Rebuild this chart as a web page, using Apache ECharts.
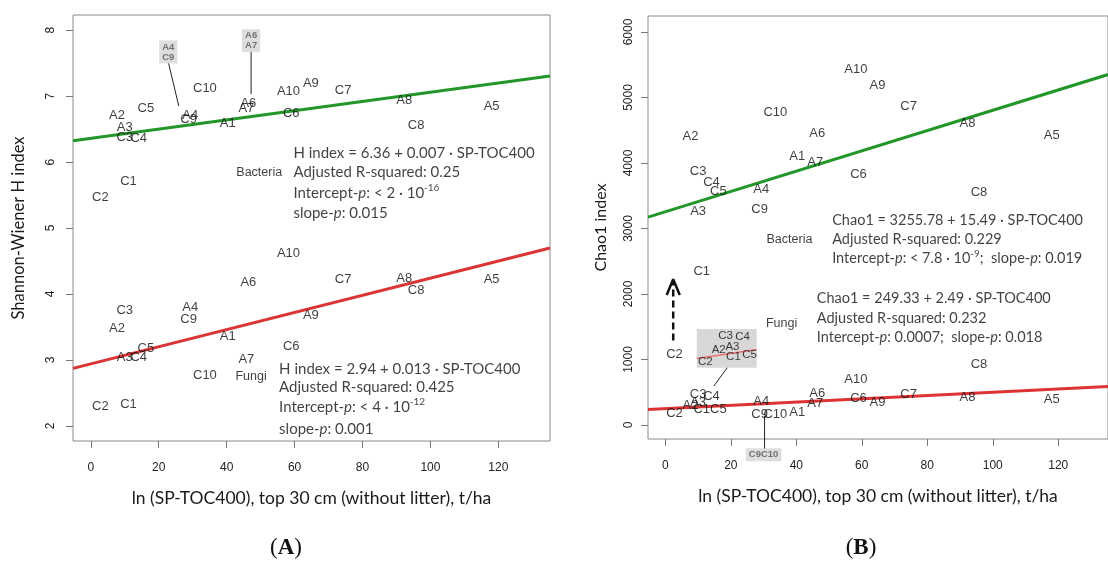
<!DOCTYPE html>
<html>
<head>
<meta charset="utf-8">
<script src="https://cdn.jsdelivr.net/npm/echarts@6/dist/echarts.min.js"></script>
<style>
  html, body { margin: 0; padding: 0; background: #fff; }
  #chart { width: 1108px; height: 561px; }
</style>
</head>
<body>
<div id="chart"></div>
<script>
// ---- data -------------------------------------------------------------
const sites = ['A1','A2','A3','A4','A5','A6','A7','A8','A9','A10',
               'C1','C2','C3','C4','C5','C6','C7','C8','C9','C10'];
// ln(SP-TOC400), top 30 cm, t/ha
const spToc = [40.3, 7.7, 10.0, 29.3, 118.0, 46.4, 45.8, 92.3, 64.8, 58.2,
               11.1, 2.8, 10.0, 14.1, 16.2, 59.0, 74.3, 95.8, 28.8, 33.6];

// Shannon-Wiener H index
const shannonBacteria = [6.58, 6.71, 6.53, 6.70, 6.85, 6.89, 6.82, 6.93, 7.20, 7.07,
                         5.70, 5.46, 6.38, 6.36, 6.82, 6.74, 7.08, 6.56, 6.64, 7.12];
const shannonFungi    = [3.35, 3.48, 3.03, 3.80, 4.22, 4.18, 3.01, 4.23, 3.68, 4.62,
                         2.32, 2.30, 3.75, 3.03, 3.17, 3.21, 4.22, 4.06, 3.61, 2.77];

// Chao1 index
const chaoBacteria = [4096, 4401, 3259, 3599, 4426, 4452, 4010, 4604, 5178, 5426,
                      2345, 1076, 3868, 3700, 3569, 3832, 4858, 3548, 3294, 4766];
const chaoFungi    = [198, 305, 340, 360, 391, 477, 330, 416, 350, 695,
                      240, 183, 468, 432, 245, 401, 467, 924, 158, 158];

// regression fits: [intercept, slope]
const fitShannonBacteria = [6.36, 0.007];
const fitShannonFungi    = [2.94, 0.013];
const fitChaoBacteria    = [3255.78, 15.49];
const fitChaoFungi       = [249.33, 2.49];

// magnified view of the crowded fungal Chao1 cluster
const insetSites = ['C3', 'C4', 'A2', 'A3', 'C1', 'C5', 'C2'];
const insetX     = [18.4, 23.6, 16.3, 20.5, 20.8, 25.7, 12.2];
const insetY     = [1355, 1340, 1142, 1193, 1041, 1076, 964];
const insetBox   = [[9.6, 1467], [27.9, 873]];
const insetFitX  = [9.6, 27.9];
const insetFitY  = [1015, 1152];
const insetLinkX = [18.9, 14.8];
const insetLinkY = [873, 594];

// upward dashed arrow near C2 (Chao1 panel)
const arrowShaftX = [2.4, 2.4];
const arrowShaftY = [1290, 2200];
const arrowHeadX  = [0.4, 2.4, 4.4];
const arrowHeadY  = [1985, 2225, 1985];

// callouts for overlapping labels
const calloutShannon = [
  { text: 'A4\nC9', at: [22.8, 7.67], from: [22.9, 7.50], to: [25.9, 6.85] },
  { text: 'A6\nA7', at: [47.2, 7.84], from: [47.2, 7.67], to: [47.2, 7.03] }
];
const calloutChao = [
  { text: 'C9C10', at: [30.0, -455], from: [30.3, 137], to: [30.3, -370] }
];

// tick labels
const xTicks = [0, 20, 40, 60, 80, 100, 120];
const shannonTicks = [2, 3, 4, 5, 6, 7, 8];
const chaoTicks = [0, 1000, 2000, 3000, 4000, 5000, 6000];

// model summaries
const noteShannonBacteria = ['H index = 6.36 + 0.007 · SP-TOC400', 'Adjusted R-squared: 0.25',
                             'Intercept-{i|p}: < 2 · 10{s|-16}', 'slope-{i|p}: 0.015'];
const noteShannonFungi    = ['H index = 2.94 + 0.013 · SP-TOC400', 'Adjusted R-squared: 0.425',
                             'Intercept-{i|p}: < 4 · 10{s|-12}', 'slope-{i|p}: 0.001'];
const noteChaoBacteria    = ['Chao1 = 3255.78 + 15.49 · SP-TOC400', 'Adjusted R-squared: 0.229',
                             'Intercept-{i|p}: < 7.8 · 10{s|-9};  slope-{i|p}: 0.019'];
const noteChaoFungi       = ['Chao1 = 249.33 + 2.49 · SP-TOC400', 'Adjusted R-squared: 0.232',
                             'Intercept-{i|p}: 0.0007;  slope-{i|p}: 0.018'];

// ---- layout -----------------------------------------------------------
const PT_FONT = '"Liberation Sans", Arial, sans-serif';
const TXT_FONT = 'Lato, "Open Sans", sans-serif';
const GREEN = '#23962a';
const RED = '#dc3434';
const AXIS_GREY = '#7a7a7a';

const X_RANGE_L = [-5.24, 135.2];
const Y_RANGE_L = [1.77, 8.23];
const X_RANGE_R = [-5.3, 135.2];
const Y_RANGE_R = [-214, 6244];

// where the summaries and group names sit (data coords)
const notePlacement = {
  shannonBacteria: { x: 59.5, ys: [6.13, 5.84, 5.53, 5.23], tag: 'Bacteria', tagAt: [49.6, 5.84], size: 15 },
  shannonFungi:    { x: 55.3, ys: [2.86, 2.58, 2.29, 1.95], tag: 'Fungi',    tagAt: [47.2, 2.75], size: 15 },
  chaoBacteria:    { x: 50.8, ys: [3132, 2838, 2538],       tag: 'Bacteria', tagAt: [37.9, 2838], size: 14.5 },
  chaoFungi:       { x: 46.1, ys: [1939, 1635, 1345],       tag: 'Fungi',    tagAt: [35.5, 1543], size: 14.5 }
};

const xTitle = 'ln (SP-TOC400), top 30 cm (without litter), t/ha';

function xAxisFor(gridIndex, range) {
  return {
    type: 'value', gridIndex, min: range[0], max: range[1],
    name: xTitle, nameLocation: 'middle', nameGap: 48,
    nameTextStyle: { fontFamily: TXT_FONT, fontSize: 17.5, color: '#1a1a1a' },
    axisLine: { show: false, onZero: false },
    axisTick: { show: true, length: 7, customValues: xTicks, lineStyle: { color: AXIS_GREY } },
    axisLabel: { customValues: xTicks, margin: 21, fontFamily: PT_FONT, fontSize: 12, color: '#222',
                 formatter: v => String(v) },
    splitLine: { show: false }
  };
}
function yAxisFor(gridIndex, range, ticks, title, gap, titleSize, labelMargin) {
  return {
    type: 'value', gridIndex, min: range[0], max: range[1],
    name: title, nameLocation: 'middle', nameGap: gap, nameRotate: 90,
    nameTextStyle: { fontFamily: TXT_FONT, fontSize: titleSize, color: '#1a1a1a' },
    axisLine: { show: false, onZero: false },
    axisTick: { show: true, length: 7, customValues: ticks, lineStyle: { color: AXIS_GREY } },
    axisLabel: { customValues: ticks, rotate: 90, margin: labelMargin, fontFamily: PT_FONT, fontSize: 12, color: '#222',
                 formatter: v => String(v) },
    splitLine: { show: false }
  };
}

function pointLabels(axis, xs, ys, names, fontSize) {
  return {
    type: 'scatter', xAxisIndex: axis, yAxisIndex: axis, symbolSize: 1, silent: true, z: 6,
    itemStyle: { color: 'rgba(0,0,0,0)' },
    label: { show: true, position: 'inside', formatter: p => p.data[2],
             fontFamily: PT_FONT, fontSize: fontSize || 13, color: '#0d0d0d' },
    data: names.map((n, i) => [xs[i], ys[i], n])
  };
}
function fitLine(axis, range, fit, color) {
  return {
    type: 'line', xAxisIndex: axis, yAxisIndex: axis, symbol: 'none', silent: true, z: 3,
    lineStyle: { color, width: 3 },
    data: range.map(x => [x, fit[0] + fit[1] * x])
  };
}
function note(axis, lines, place) {
  const base = { fontFamily: TXT_FONT, fontSize: place.size, color: '#111', lineHeight: 20 };
  return [{
    type: 'scatter', xAxisIndex: axis, yAxisIndex: axis, symbolSize: 1, silent: true, z: 6,
    itemStyle: { color: 'rgba(0,0,0,0)' },
    label: Object.assign({ show: true, position: 'right', distance: 0, formatter: p => p.data[2],
      rich: {
        i: Object.assign({}, base, { fontStyle: 'italic' }),
        s: { fontFamily: TXT_FONT, fontSize: 10, color: '#111', lineHeight: 10, verticalAlign: 'top' }
      } }, base),
    data: lines.map((t, k) => [place.x, place.ys[k], t])
  }, pointLabels(axis, [place.tagAt[0]], [place.tagAt[1]], [place.tag], 12.5)];
}
function segment(axis, xs, ys, style, clip) {
  return {
    type: 'line', xAxisIndex: axis, yAxisIndex: axis, symbol: 'none', silent: true, z: 4,
    clip: clip !== false, lineStyle: style,
    data: xs.map((x, i) => [x, ys[i]])
  };
}
function callouts(axis, list) {
  const out = [{
    type: 'scatter', xAxisIndex: axis, yAxisIndex: axis, symbolSize: 1, silent: true, z: 7, clip: false,
    itemStyle: { color: 'rgba(0,0,0,0)' },
    label: { show: true, position: 'inside', formatter: p => p.data[2],
             fontFamily: PT_FONT, fontSize: 9.5, fontWeight: 'bold', lineHeight: 10, color: '#555',
             backgroundColor: '#d6d6d6', padding: [2, 3, 1, 3] },
    data: list.map(c => [c.at[0], c.at[1], c.text])
  }];
  list.forEach(c => out.push(segment(axis, [c.from[0], c.to[0]], [c.from[1], c.to[1]],
                                     { color: '#222', width: 1 }, false)));
  return out;
}

const series = [
  // (A) Shannon-Wiener H index
  fitLine(0, X_RANGE_L, fitShannonBacteria, GREEN),
  fitLine(0, X_RANGE_L, fitShannonFungi, RED),
  pointLabels(0, spToc, shannonBacteria, sites),
  pointLabels(0, spToc, shannonFungi, sites),
  ...note(0, noteShannonBacteria, notePlacement.shannonBacteria),
  ...note(0, noteShannonFungi, notePlacement.shannonFungi),
  ...callouts(0, calloutShannon),

  // (B) Chao1 index
  fitLine(1, X_RANGE_R, fitChaoBacteria, GREEN),
  fitLine(1, X_RANGE_R, fitChaoFungi, RED),
  pointLabels(1, spToc, chaoBacteria, sites),
  pointLabels(1, spToc, chaoFungi, sites),
  ...note(1, noteChaoBacteria, notePlacement.chaoBacteria),
  ...note(1, noteChaoFungi, notePlacement.chaoFungi),
  ...callouts(1, calloutChao),
  Object.assign(segment(1, insetFitX, insetFitY, { color: '#e87070', width: 1.5 }), {
    z: 2,
    markArea: { silent: true, itemStyle: { color: '#d8d8d8' },
                data: [[{ coord: insetBox[0] }, { coord: insetBox[1] }]] }
  }),
  pointLabels(1, insetX, insetY, insetSites, 11.5),
  segment(1, insetLinkX, insetLinkY, { color: '#222', width: 1 }),
  segment(1, arrowShaftX, arrowShaftY, { color: '#111', width: 2.5, type: [7, 4] }),
  segment(1, arrowHeadX, arrowHeadY, { color: '#111', width: 2.5 })
];

const panelTag = (letter, x) => ({
  type: 'text', x, y: 548, silent: true,
  style: { text: '{p|(}{b|' + letter + '}{p|)}', align: 'center', verticalAlign: 'middle',
           rich: { p: { fontFamily: '"Liberation Serif", serif', fontSize: 23, fill: '#111' },
                   b: { fontFamily: '"Liberation Serif", serif', fontSize: 23, fontWeight: 'bold', fill: '#111' } } }
});

const option = {
  animation: false,
  backgroundColor: '#fff',
  grid: [
    { left: 73, top: 15, width: 477, height: 426, show: true, borderColor: '#8a8a8a', borderWidth: 1, backgroundColor: 'transparent' },
    { left: 648, top: 16, width: 474, height: 423, show: true, borderColor: '#8a8a8a', borderWidth: 1, backgroundColor: 'transparent' }
  ],
  xAxis: [xAxisFor(0, X_RANGE_L), xAxisFor(1, X_RANGE_R)],
  yAxis: [yAxisFor(0, Y_RANGE_L, shannonTicks, 'Shannon-Wiener H index', 46, 16.5, 16),
          yAxisFor(1, Y_RANGE_R, chaoTicks, 'Chao1 index', 39, 16, 13)],
  series,
  graphic: [panelTag('A', 286), panelTag('B', 861)]
};

const chart = echarts.init(document.getElementById('chart'), null, { renderer: 'canvas' });
chart.setOption(option);
</script>
</body>
</html>
